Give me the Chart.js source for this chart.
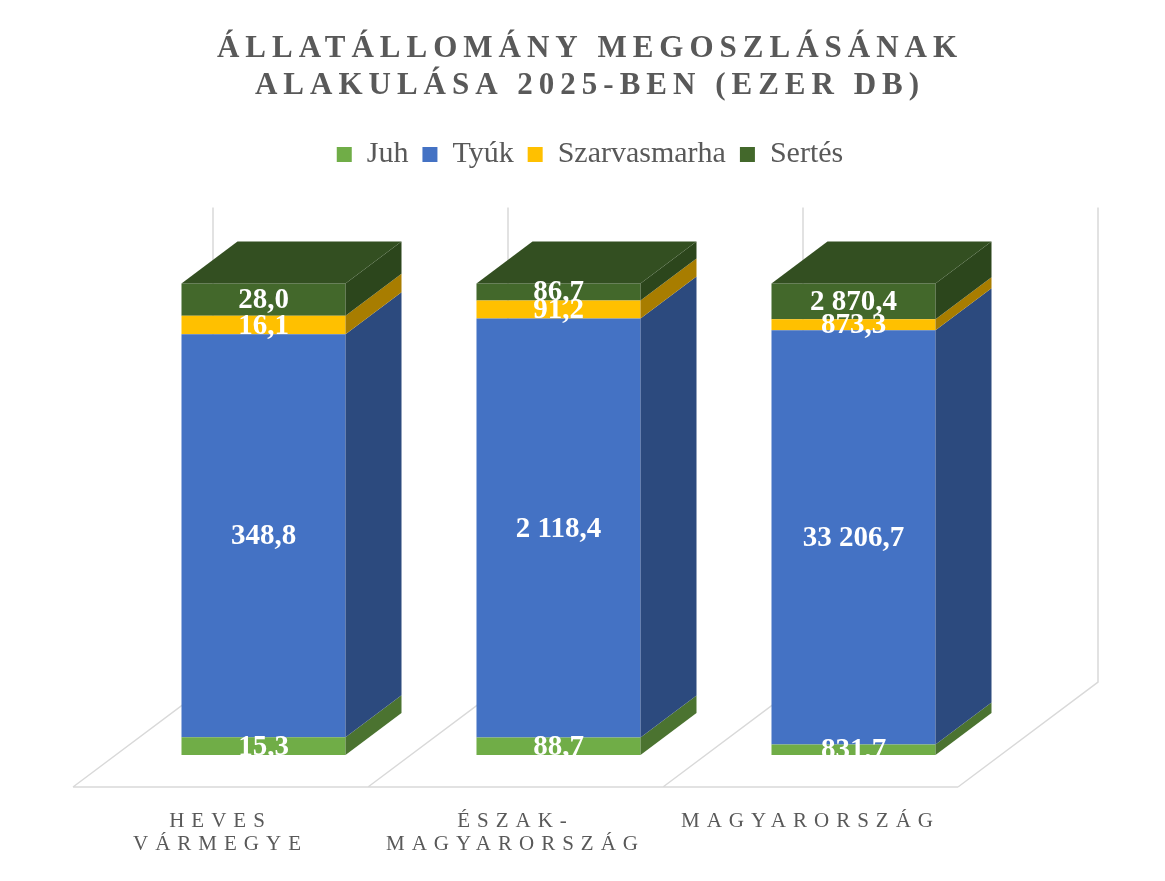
<!DOCTYPE html>
<html>
<head>
<meta charset="utf-8">
<script src="https://cdn.jsdelivr.net/npm/chart.js@4"></script>
<style>
html,body{margin:0;padding:0;background:#ffffff;}
#wrap{width:1165px;height:881px;}
</style>
</head>
<body>
<div id="wrap"><canvas id="c" width="1165" height="881"></canvas></div>
<script>
// ---- data ----
const categories = [['HEVES', 'VÁRMEGYE'], ['ÉSZAK-', 'MAGYARORSZÁG'], ['MAGYARORSZÁG']];
const seriesNames = ['Juh', 'Tyúk', 'Szarvasmarha', 'Sertés'];
const juh = [15.3, 88.7, 831.7];
const tyuk = [348.8, 2118.4, 33206.7];
const szarvasmarha = [16.1, 91.2, 873.3];
const sertes = [28.0, 86.7, 2870.4];
const titleLines = ['ÁLLATÁLLOMÁNY MEGOSZLÁSÁNAK', 'ALAKULÁSA 2025-BEN (EZER DB)'];

// ---- styles ----
const frontColors = ['#70AD47', '#4472C4', '#FFC000', '#43682B'];
const sideColors = ['#4B7330', '#2C4A7E', '#A87D00', '#2C461C'];
const topColors = ['#5A8A3A', '#35599A', '#C89500', '#334F21'];

const seriesValues = [juh, tyuk, szarvasmarha, sertes];
const totals = categories.map((_, i) => seriesValues.reduce((s, arr) => s + arr[i], 0));

function fmt(v) {
  const parts = v.toFixed(1).split('.');
  return parts[0].replace(/\B(?=(\d{3})+(?!\d))/g, ' ') + ',' + parts[1];
}

// 3D geometry (pixels)
const FLOOR_DX = 140, FLOOR_DY = 105;
const BAR_OX = 43, BAR_OY = 32;
const BAR_DX = 56, BAR_DY = 42;

const spacingPlugin = {
  id: 'spacing',
  beforeDraw(chart) {
    const ctx = chart.ctx;
    const t = chart.titleBlock;
    if (t && !t.__ls) {
      const orig = t.draw;
      t.draw = function (...a) { ctx.save(); ctx.letterSpacing = '6px'; orig.apply(this, a); ctx.restore(); };
      t.__ls = true;
    }
    const xs = chart.scales.x;
    if (xs && !xs.__ls) {
      const o = xs.drawLabels;
      xs.drawLabels = function (...a) { ctx.save(); ctx.letterSpacing = '7px'; o.apply(this, a); ctx.restore(); };
      xs.__ls = true;
    }
  }
};

const threeD = {
  id: 'threeD',
  beforeDatasetsDraw(chart) {
    const { ctx, chartArea: a, scales } = chart;
    const y = scales.y;
    const n = chart.data.labels.length;
    const w = (a.right - a.left) / n;
    const topBack = y.getPixelForValue(100) - FLOOR_DY - 3;
    ctx.save();
    ctx.strokeStyle = '#D9D9D9';
    ctx.lineWidth = 1.5;
    ctx.beginPath();
    ctx.moveTo(a.left, a.bottom);
    ctx.lineTo(a.right, a.bottom);
    for (let i = 0; i <= n; i++) {
      const bx = a.left + i * w;
      ctx.moveTo(bx, a.bottom);
      ctx.lineTo(bx + FLOOR_DX, a.bottom - FLOOR_DY);
      ctx.lineTo(bx + FLOOR_DX, topBack);
    }
    ctx.stroke();
    ctx.restore();
    ctx.save();
    ctx.translate(BAR_OX, -BAR_OY);
  },
  afterDatasetsDraw(chart) {
    const ctx = chart.ctx;
    const nd = chart.data.datasets.length;
    for (let d = 0; d < nd; d++) {
      const meta = chart.getDatasetMeta(d);
      meta.data.forEach((el) => {
        const p = el.getProps(['x', 'y', 'base', 'width'], true);
        const left = p.x - p.width / 2, right = p.x + p.width / 2;
        const top = Math.min(p.y, p.base), bottom = Math.max(p.y, p.base);
        ctx.fillStyle = sideColors[d];
        ctx.beginPath();
        ctx.moveTo(right, top);
        ctx.lineTo(right + BAR_DX, top - BAR_DY);
        ctx.lineTo(right + BAR_DX, bottom - BAR_DY);
        ctx.lineTo(right, bottom);
        ctx.closePath();
        ctx.fill();
        if (d === nd - 1) {
          ctx.fillStyle = topColors[d];
          ctx.beginPath();
          ctx.moveTo(left, top);
          ctx.lineTo(left + BAR_DX, top - BAR_DY);
          ctx.lineTo(right + BAR_DX, top - BAR_DY);
          ctx.lineTo(right, top);
          ctx.closePath();
          ctx.fill();
        }
      });
    }
    ctx.fillStyle = '#FFFFFF';
    ctx.font = 'bold 29px "Liberation Serif", "Times New Roman", serif';
    ctx.textAlign = 'center';
    ctx.textBaseline = 'middle';
    for (let d = 0; d < nd; d++) {
      const meta = chart.getDatasetMeta(d);
      const ds = chart.data.datasets[d];
      meta.data.forEach((el, i) => {
        const p = el.getProps(['x', 'y', 'base'], true);
        ctx.fillText(fmt(ds.rawValues[i]), p.x, (p.y + p.base) / 2 + 1);
      });
    }
    ctx.restore();
  }
};

Chart.defaults.font.family = '"Liberation Serif", "Times New Roman", serif';

new Chart(document.getElementById('c'), {
  type: 'bar',
  data: {
    labels: categories,
    datasets: seriesNames.map((name, k) => ({
      label: name,
      data: seriesValues[k].map((v, i) => v / totals[i] * 100),
      rawValues: seriesValues[k],
      backgroundColor: frontColors[k],
      borderWidth: 0,
      categoryPercentage: 1,
      barPercentage: 0.556,
      clip: false
    }))
  },
  options: {
    responsive: false,
    animation: false,
    layout: { padding: { left: 15, right: 0, top: 0, bottom: 0 } },
    plugins: {
      tooltip: { enabled: false },
      title: {
        display: true,
        text: titleLines,
        color: '#595959',
        font: { size: 31, weight: 'bold', lineHeight: 1.2 },
        padding: { top: 30, bottom: 21 }
      },
      legend: {
        display: true,
        position: 'top',
        labels: {
          boxWidth: 15,
          boxHeight: 15,
          padding: 14,
          color: '#595959',
          font: { size: 30 }
        }
      }
    },
    scales: {
      x: {
        stacked: true,
        grid: { display: false, drawTicks: false },
        border: { display: false },
        ticks: {
          color: '#595959',
          font: { size: 21, lineHeight: 1.1 },
          padding: 23,
          maxRotation: 0,
          autoSkip: false
        },
        afterFit(s) { s.height = 94; }
      },
      xTop: {
        type: 'category',
        position: 'top',
        display: true,
        grid: { display: false, drawTicks: false },
        border: { display: false },
        ticks: { display: false },
        afterFit(s) { s.height = 136; }
      },
      y: {
        stacked: true,
        min: 0,
        max: 100,
        display: true,
        grid: { display: false, drawTicks: false },
        border: { display: false },
        ticks: { display: false },
        afterFit(s) { s.width = 58; }
      },
      yRight: {
        type: 'linear',
        position: 'right',
        display: true,
        grid: { display: false, drawTicks: false },
        border: { display: false },
        ticks: { display: false },
        afterFit(s) { s.width = 207; }
      }
    }
  },
  plugins: [spacingPlugin, threeD]
});
</script>
</body>
</html>
